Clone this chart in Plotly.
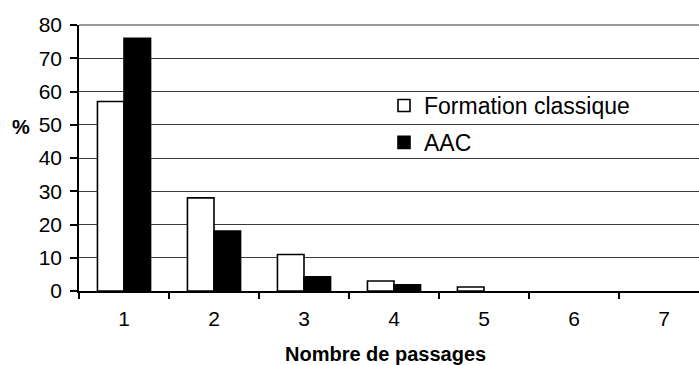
import plotly.graph_objects as go

# Number of attempts (passages) and share of candidates in each group, in %
categories = ["1", "2", "3", "4", "5", "6", "7"]
formation_classique = [57, 28, 11, 3, 1.2, 0, 0]
aac = [76, 18, 4.3, 1.9, 0, 0, 0]
y_ticks = [0, 10, 20, 30, 40, 50, 60, 70, 80]

FONT = "Liberation Sans, Arial, sans-serif"
W, H = 699, 365
L, T, B, R = 79, 25, 74, 0
PW, PH = W - L - R, H - T - B


def px_x(px):
    return (px - L) / PW


def px_y(py):
    return (H - B - py) / PH


def outline(values):
    # no outline on empty bars, so nothing is drawn for a zero share
    return [1.6 if v > 0 else 0 for v in values]


fig = go.Figure()
fig.add_trace(go.Bar(
    x=categories, y=formation_classique, name="Formation classique",
    legendgroup="a",
    marker=dict(color="white",
                line=dict(color="black", width=outline(formation_classique))),
))
fig.add_trace(go.Bar(
    x=categories, y=aac, name="AAC",
    legendgroup="b",
    marker=dict(color="black",
                line=dict(color="black", width=outline(aac))),
))

fig.update_layout(
    width=W, height=H,
    margin=dict(l=L, r=R, t=T, b=B, pad=0),
    paper_bgcolor="white", plot_bgcolor="white",
    font=dict(family=FONT, size=21, color="black"),
    barmode="group", bargap=0.41, bargroupgap=0,
    showlegend=True,
    legend=dict(
        x=px_x(384), xanchor="left",
        y=px_y(84), yanchor="top",
        bgcolor="rgba(0,0,0,0)", borderwidth=0,
        font=dict(family=FONT, size=23, color="black"),
        tracegroupgap=4,
    ),
    xaxis=dict(
        type="category",
        range=[-0.5, 6.389],
        showline=True, linecolor="black", linewidth=1.5,
        ticks="outside", ticklen=6, tickcolor="black", tickwidth=1.5,
        tickson="boundaries",
        ticklabelstandoff=8,
        showgrid=False, zeroline=False,
        tickfont=dict(family=FONT, size=21, color="black"),
    ),
    yaxis=dict(
        range=[0, 80], tickvals=y_ticks,
        showline=True, linecolor="black", linewidth=1.5,
        ticks="outside", ticklen=7, tickcolor="black", tickwidth=1.5,
        ticklabelstandoff=4,
        showgrid=True, gridcolor="#3a3a3a", gridwidth=1,
        zeroline=False,
        tickfont=dict(family=FONT, size=21, color="black"),
    ),
    shapes=[
        # white panel behind the legend, interrupting the gridlines
        dict(type="rect", xref="paper", yref="paper",
             x0=px_x(367), x1=px_x(678), y0=px_y(152), y1=px_y(66),
             fillcolor="white", line=dict(width=0), layer="between"),
        # top border of the plot area
        dict(type="line", xref="paper", yref="paper",
             x0=0, x1=1, y0=1, y1=1,
             line=dict(color="#9a9a9a", width=2), layer="above"),
    ],
    annotations=[
        dict(text="<b>%</b>", xref="paper", yref="paper",
             x=px_x(21), y=px_y(127), xanchor="center", yanchor="middle",
             showarrow=False, font=dict(family=FONT, size=20, color="black")),
        dict(text="<b>Nombre de passages</b>", xref="paper", yref="paper",
             x=px_x(385), y=px_y(354), xanchor="center", yanchor="middle",
             showarrow=False, font=dict(family=FONT, size=20, color="black")),
    ],
)

fig.write_html("out.html")
